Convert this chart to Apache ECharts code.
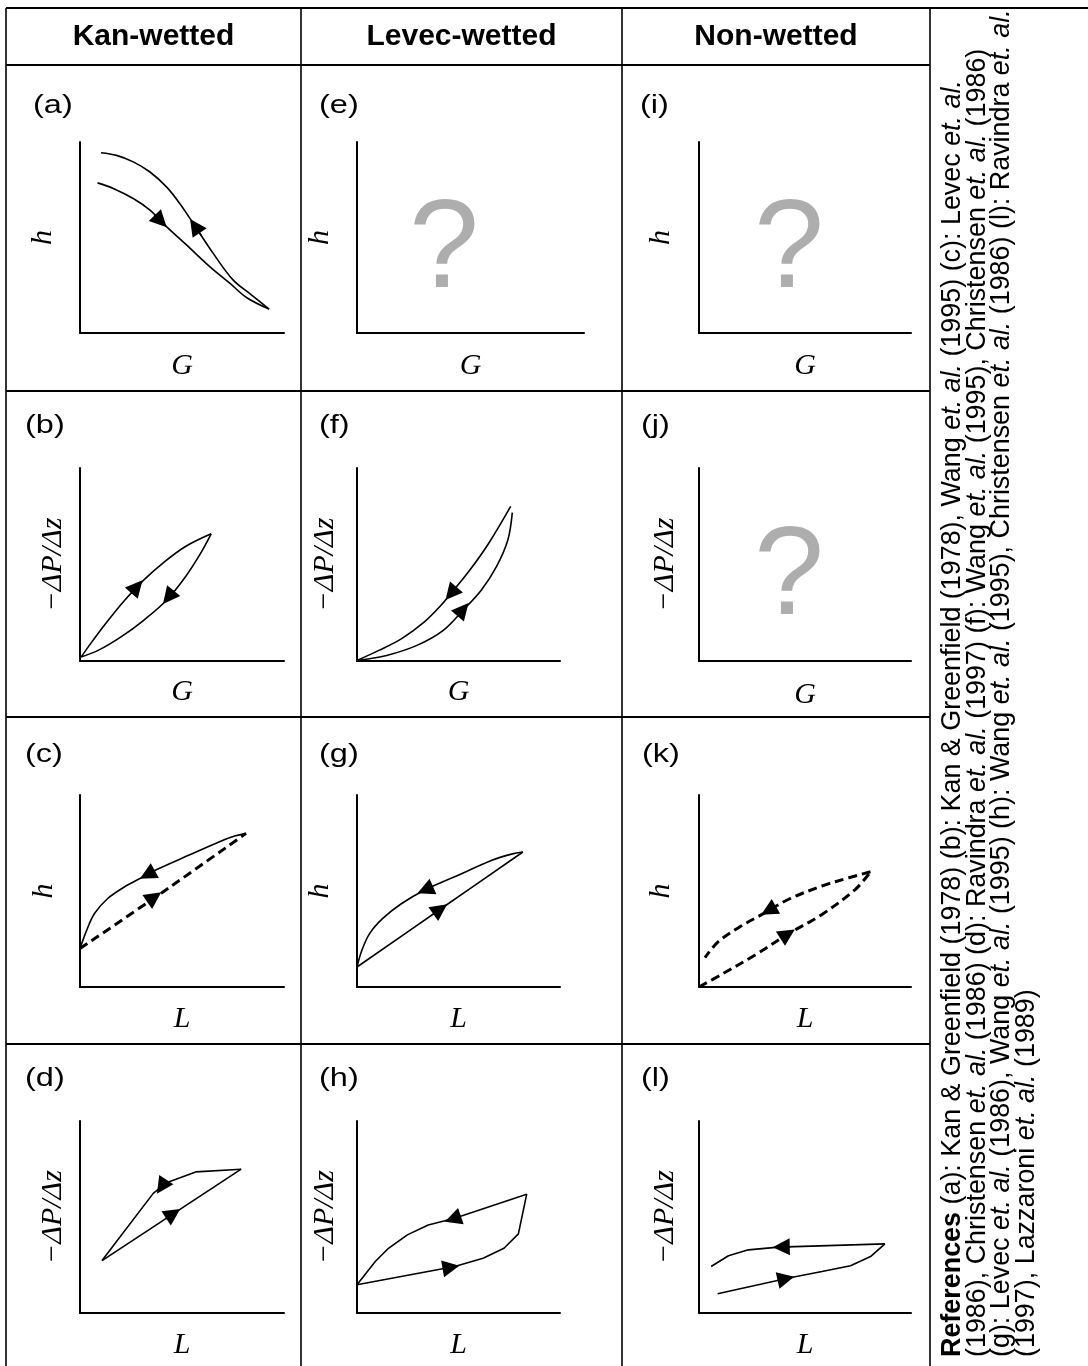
<!DOCTYPE html>
<html><head><meta charset="utf-8">
<script src="https://cdn.jsdelivr.net/npm/echarts@6/dist/echarts.min.js"></script>
<style>html,body{margin:0;padding:0;background:#fff}#c{width:1088px;height:1366px}</style>
</head><body><div id="c"></div>
<script>
// ---------------- DATA ----------------
const columnTitles = ['Kan-wetted', 'Levec-wetted', 'Non-wetted'];
const panelIds = ['a','b','c','d','e','f','g','h','i','j','k','l'];
const rowYNames = ['h', '\u2212\u0394P/\u0394z', 'h', '\u2212\u0394P/\u0394z'];
const rowXNames = ['G', 'G', 'L', 'L'];

// (a) Kan-wetted, h vs G
const a_inc = [[0.86,7.86],[1.63,7.57],[2.61,7.04],[3.43,6.43],[4.24,5.57],[5.22,4.61],[6.36,3.48],[7.34,2.61],[8.16,1.86],[9.27,1.25]];
const a_dec = [[9.27,1.25],[8.4,2.0],[7.5,2.78],[6.53,4.17],[5.55,5.74],[4.89,6.78],[4.24,7.65],[3.43,8.43],[2.61,8.96],[1.79,9.30],[1.03,9.44]];
const a_arrows = [[[3.64,6.2],[3.96,5.85]], [[5.95,5.1],[5.63,5.6]]];
// (b) Kan-wetted, -dP/dz vs G
const b_inc = [[0.06,0.21],[0.52,0.9],[1.26,1.94],[2.19,3.15],[3.12,4.19],[4.05,5.06],[5.17,5.93],[6.43,6.59]];
const b_dec = [[6.43,6.59],[5.91,5.58],[5.17,4.37],[4.24,3.15],[3.12,2.11],[2.01,1.25],[0.89,0.55],[0.06,0.21]];
const b_arrows = [[[2.5,3.5],[2.79,3.85]], [[4.6,3.65],[4.33,3.3]]];
// (c) Kan-wetted, h vs L
const c_dec = [[8.14,8.0],[7.58,7.86],[6.84,7.57],[5.35,6.87],[3.87,6.17],[2.94,5.65],[2.19,5.22],[1.36,4.61],[0.71,3.83],[0.33,2.96],[0,2.0]];
const c_inc = [[0,2.0],[4.0,4.9],[8.14,8.0]];
const c_arrows = [[[3.7,6.08],[3.3,5.85]], [[3.3,4.43],[3.64,4.68]]];
// (d) Kan-wetted, -dP/dz vs L
const d_dec = [[7.90,7.49],[5.67,7.35],[4.24,6.78],[3.59,6.23],[1.08,2.73]];
const d_inc = [[1.08,2.73],[7.90,7.49]];
const d_arrows = [[[4.2,6.9],[4.0,6.58]], [[4.2,4.91],[4.57,5.17]]];
// (e) Levec-wetted, h vs G : unknown
const e_question = [[3.83,4.24]];
// (f) Levec-wetted, -dP/dz vs G
const f_dec = [[7.57,8.01],[6.49,6.10],[5.56,4.71],[4.63,3.50],[4.07,2.81],[3.32,2.03],[2.20,1.16],[1.08,0.55],[0,0.03]];
const f_inc = [[0,0.03],[1.46,0.29],[2.95,0.81],[4.25,1.59],[5.22,2.63],[6.12,3.67],[6.87,4.89],[7.43,6.27],[7.65,7.69]];
const f_arrows = [[[4.91,3.85],[4.63,3.5]], [[4.96,2.35],[5.22,2.67]]];
// (g) Levec-wetted, h vs L
const g_dec = [[8.17,7.03],[7.61,6.92],[6.68,6.61],[4.81,5.74],[3.32,5.04],[2.2,4.35],[1.27,3.57],[0.62,2.78],[0.24,1.91],[0,1.04]];
const g_inc = [[0,1.04],[4.1,4.05],[8.17,7.03]];
const g_arrows = [[[3.75,5.24],[3.36,5.06]], [[3.75,3.79],[4.1,4.05]]];
// (h) Levec-wetted, -dP/dz vs L
const h_dec = [[8.36,6.19],[4.81,4.93],[3.51,4.58],[2.48,4.07],[1.55,3.37],[0.90,2.68],[0,1.47]];
const h_inc = [[0,1.47],[4.81,2.42],[6.21,2.85],[7.24,3.37],[7.95,4.12],[8.36,6.19]];
const h_arrows = [[[5.1,5.04],[4.72,4.9]], [[4.25,2.31],[4.63,2.38]]];
// (i), (j) Non-wetted : unknown
const i_question = [[4.25,4.24]];
const j_question = [[4.25,4.24]];
// (k) Non-wetted, h vs L (dashed)
const k_inc = [[0,0],[1.07,0.66],[2.65,1.67],[4.23,2.78],[5.8,3.78],[7.38,5.09],[8.09,6.0]];
const k_dec = [[8.09,6.0],[7.07,5.69],[5.8,5.26],[4.23,4.57],[2.97,3.78],[1.86,3.09],[0.91,2.36],[0.28,1.53]];
const k_arrows = [[[3.6,4.18],[3.28,3.98]], [[3.88,2.55],[4.18,2.76]]];
// (l) Non-wetted, -dP/dz vs L
const l_dec = [[8.77,3.60],[3.75,3.43],[2.33,3.29],[1.39,2.98],[0.57,2.42]];
const l_inc = [[0.88,1.0],[4.23,1.82],[5.8,2.16],[7.15,2.46],[8.09,2.94],[8.77,3.60]];
const l_arrows = [[[4.3,3.45],[3.88,3.44]], [[3.7,1.69],[4.1,1.79]]];

const referenceLines = [
  '{b|References} (a): Kan & Greenfield (1978) (b): Kan & Greenfield (1978), Wang {i|et. al.} (1995) (c): Levec {i|et. al.}',
  '(1986), Christensen {i|et. al.} (1986) (d): Ravindra {i|et. al.} (1997) (f): Wang {i|et. al.} (1995), Christensen {i|et. al.} (1986)',
  '(g): Levec {i|et. al.} (1986), Wang {i|et. al.} (1995) (h): Wang {i|et. al.} (1995), Christensen {i|et. al.} (1986) (l): Ravindra {i|et. al.}',
  '(1997), Lazzaroni {i|et. al.} (1989)'
];

// ---------------- LAYOUT ----------------
const rowTops = [142, 468, 795, 1121];
const rowHeights = [191, 193, 192, 192];
const colBoxes = [
  [[80,204],[357,227],[699,212]],
  [[80,204],[357,203],[699,212]],
  [[80,204],[357,203],[699,212]],
  [[80,204],[357,203],[699,212]]
];
const yGaps = [[22,22,23],[12,17,19],[21,22,23],[12,17,19]];
const xGaps = [[18,18,18],[16,16,19],[17,17,17],[17,17,17]];
const labelPos = [[[35,106],[321,106],[642,106]],[[27,426],[321,426],[643,426]],[[27,755],[321,755],[644,755]],[[27,1079],[321,1079],[643,1079]]];

const panelContent = {
  a: {paths:[a_inc,a_dec], dashed:false, smooth:true, arrows:a_arrows},
  b: {paths:[b_inc,b_dec], dashed:false, smooth:true, arrows:b_arrows},
  c: {paths:[c_dec], extra:[c_inc], dashed:false, smooth:true, arrows:c_arrows},
  d: {paths:[d_dec,d_inc], dashed:false, smooth:false, arrows:d_arrows},
  e: {question:e_question},
  f: {paths:[f_dec,f_inc], dashed:false, smooth:true, arrows:f_arrows},
  g: {paths:[g_dec,g_inc], dashed:false, smooth:true, arrows:g_arrows},
  h: {paths:[h_dec,h_inc], dashed:false, smooth:false, arrows:h_arrows},
  i: {question:i_question},
  j: {question:j_question},
  k: {paths:[k_inc,k_dec], dashed:true, smooth:true, arrows:k_arrows},
  l: {paths:[l_dec,l_inc], dashed:false, smooth:false, arrows:l_arrows}
};

const nameStyle = {fontFamily:'Liberation Serif', fontStyle:'italic', fontSize:30, color:'#000'};
const grids = [], xAxes = [], yAxes = [], series = [];
const dashType = [9,5];

for (let col = 0; col < 3; col++) {
  for (let row = 0; row < 4; row++) {
    const id = panelIds[col*4 + row];
    const gi = grids.length;
    const [left, width] = colBoxes[row][col];
    grids.push({left: left, top: rowTops[row], width: width, height: rowHeights[row], containLabel:false});
    const axisBase = {
      type:'value', gridIndex: gi, min:0, max:10,
      axisLine:{show:true, onZero:false, lineStyle:{color:'#000', width:2}},
      axisTick:{show:false}, axisLabel:{show:false}, splitLine:{show:false},
      nameLocation:'middle', nameTextStyle: nameStyle
    };
    xAxes.push(Object.assign({}, axisBase, {name: rowXNames[row], nameGap: xGaps[row][col]}));
    yAxes.push(Object.assign({}, axisBase, {name: rowYNames[row], nameGap: yGaps[row][col], nameRotate: 90}));
    const pc = panelContent[id];
    if (pc.question) {
      series.push({type:'scatter', xAxisIndex:gi, yAxisIndex:gi, data: pc.question, symbolSize:1,
        itemStyle:{color:'rgba(0,0,0,0)'}, silent:true,
        label:{show:true, position:'inside', formatter:'?', fontSize:126, color:'#999999', fontFamily:'Liberation Sans'}});
      continue;
    }
    const solidW = 1.6, dashW = 3;
    pc.paths.forEach(p => {
      series.push({type:'line', xAxisIndex:gi, yAxisIndex:gi, data:p, showSymbol:false, symbol:'none',
        smooth: pc.smooth ? 0.35 : false, silent:true,
        lineStyle:{color:'#000', width: pc.dashed ? dashW : solidW, type: pc.dashed ? dashType : 'solid'}});
    });
    if (pc.extra) pc.extra.forEach(p => {
      series.push({type:'line', xAxisIndex:gi, yAxisIndex:gi, data:p, showSymbol:false, symbol:'none',
        smooth: 0.2, silent:true, lineStyle:{color:'#000', width: dashW, type: dashType}});
    });
    series.push({type:'lines', coordinateSystem:'cartesian2d', xAxisIndex:gi, yAxisIndex:gi, silent:true,
      data: pc.arrows.map(a => ({coords:a})),
      symbol:['none','triangle'], symbolSize:[12,17],
      lineStyle:{color:'#000', width:1.6, opacity:1}});
  }
}

// table lines, titles, panel labels, references
const graphic = [];
const hLine = (y, x1, x2, w) => graphic.push({type:'line', shape:{x1:x1, y1:y, x2:x2, y2:y}, style:{stroke:'#000', lineWidth:w}, silent:true});
const vLine = (x, y1, y2, w) => graphic.push({type:'line', shape:{x1:x, y1:y1, x2:x, y2:y2}, style:{stroke:'#000', lineWidth:w}, silent:true});
hLine(8, 6, 1088, 2);
hLine(65, 6, 930, 2);
hLine(391, 6, 930, 2);
hLine(717, 6, 930, 2);
hLine(1044, 6, 930, 2);
vLine(6, 8, 1366, 1.6);
vLine(301, 8, 1366, 1.6);
vLine(622, 8, 1366, 1.6);
vLine(930, 8, 1366, 1.6);
const titleX = [153.5, 461.5, 776];
columnTitles.forEach((t, i) => graphic.push({type:'text', x:titleX[i], y:37, silent:true,
  style:{text:t, fontSize:30, fontWeight:'bold', fontFamily:'Liberation Sans', fill:'#000', textAlign:'center', textVerticalAlign:'middle'}}));
for (let col = 0; col < 3; col++) for (let row = 0; row < 4; row++) {
  const [lx, ly] = labelPos[row][col];
  graphic.push({type:'text', x: lx - 2, y: ly, scaleX: 1.3, silent:true,
    style:{text:'(' + panelIds[col*4+row] + ')', fontSize:25, fontFamily:'Liberation Sans', fill:'#000', textAlign:'left', textVerticalAlign:'middle'}});
}
const refX = [953, 977.5, 1002, 1026.5];
const refFont = 26.9;
referenceLines.forEach((t, i) => graphic.push({type:'text', x: refX[i], y: 1357, rotation: Math.PI/2, silent:true,
  style:{text:t, fontSize:refFont, fontFamily:'Liberation Sans', fill:'#000', textAlign:'left', textVerticalAlign:'middle',
    rich:{b:{fontWeight:'bold', fontSize:refFont, fontFamily:'Liberation Sans'}, i:{fontStyle:'italic', fontSize:refFont, fontFamily:'Liberation Sans'}}}}));

const chart = echarts.init(document.getElementById('c'), null, {renderer:'canvas'});
chart.setOption({
  animation:false,
  backgroundColor:'#fff',
  grid: grids, xAxis: xAxes, yAxis: yAxes, series: series, graphic: graphic
});
</script>
</body></html>
